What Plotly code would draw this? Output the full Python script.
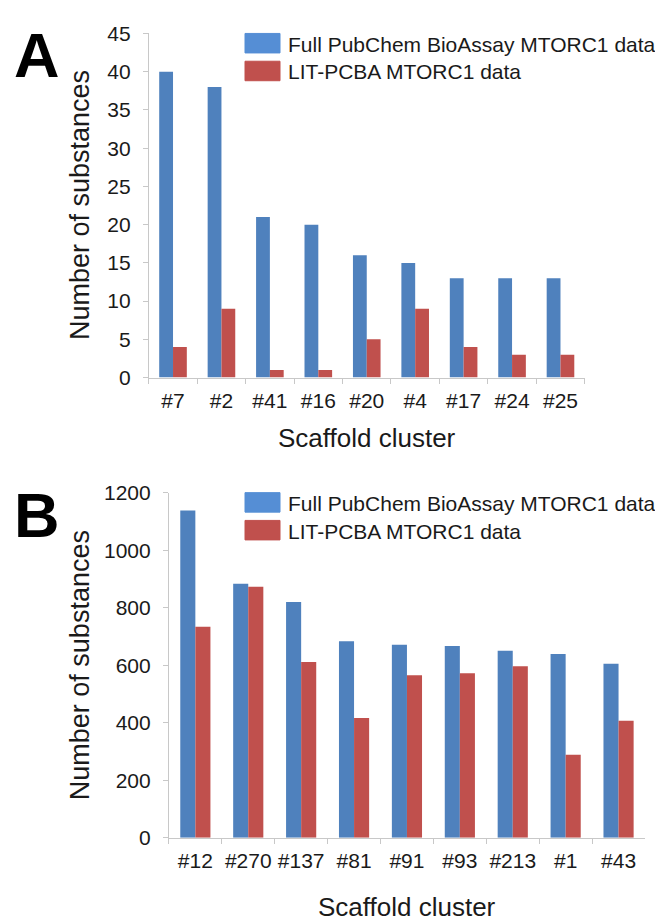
import plotly.graph_objects as go

# Scaffold clusters and substance counts, panel A
clusters_a = ["#7", "#2", "#41", "#16", "#20", "#4", "#17", "#24", "#25"]
full_a = [40, 38, 21, 20, 16, 15, 13, 13, 13]
litpcba_a = [4, 9, 1, 1, 5, 9, 4, 3, 3]

# Scaffold clusters and substance counts, panel B
clusters_b = ["#12", "#270", "#137", "#81", "#91", "#93", "#213", "#1", "#43"]
full_b = [1138, 883, 820, 683, 671, 667, 650, 639, 605]
litpcba_b = [734, 873, 611, 416, 565, 572, 596, 289, 407]

series_names = ["Full PubChem BioAssay MTORC1 data", "LIT-PCBA MTORC1 data"]
y_ticks_a = [0, 5, 10, 15, 20, 25, 30, 35, 40, 45]
y_ticks_b = [0, 200, 400, 600, 800, 1000, 1200]

W, H = 655, 917
BLUE = "#4F81BD"
RED = "#C0504D"
LEG_BLUE = "#558ED5"
AXIS_GRAY = "#C8C8C8"
TEXT = "#1a1a1a"
FONT = "Liberation Sans, Arial, sans-serif"


def px(x):
    return x / W


def py(y):
    return 1 - y / H


fig = go.Figure()
fig.add_bar(x=clusters_a, y=full_a, name=series_names[0], marker_color=BLUE,
            xaxis="x", yaxis="y", showlegend=False)
fig.add_bar(x=clusters_a, y=litpcba_a, name=series_names[1], marker_color=RED,
            xaxis="x", yaxis="y", showlegend=False)
fig.add_bar(x=clusters_b, y=full_b, name=series_names[0], marker_color=BLUE,
            xaxis="x2", yaxis="y2", showlegend=False)
fig.add_bar(x=clusters_b, y=litpcba_b, name=series_names[1], marker_color=RED,
            xaxis="x2", yaxis="y2", showlegend=False)
fig.update_traces(marker_line_width=0)

xcommon = dict(type="category", showline=True, linecolor=AXIS_GRAY, linewidth=1,
               ticks="outside", tickson="boundaries", ticklen=5, tickcolor=AXIS_GRAY,
               showgrid=False, zeroline=False, ticklabelstandoff=4, tickangle=0,
               tickfont=dict(family=FONT, size=21, color=TEXT))
ycommon = dict(showline=True, linecolor=AXIS_GRAY, linewidth=1, ticks="outside",
               ticklen=5, tickcolor=AXIS_GRAY, showgrid=False, zeroline=False,
               ticklabelstandoff=8, tickfont=dict(family=FONT, size=21, color=TEXT))

fig.update_layout(
    width=W, height=H, autosize=False,
    margin=dict(l=0, r=0, t=0, b=0),
    paper_bgcolor="white", plot_bgcolor="white",
    barmode="group", bargap=0.43, bargroupgap=0,
    showlegend=False,
    xaxis=dict(domain=[px(148.8), px(584.7)], anchor="y", **xcommon),
    yaxis=dict(domain=[py(375), py(22)], anchor="x", range=[0, 45],
               tickvals=y_ticks_a, **ycommon),
    xaxis2=dict(domain=[px(168.9), px(645)], anchor="y2", **xcommon),
    yaxis2=dict(domain=[py(847), py(493)], anchor="x2", range=[0, 1200],
                tickvals=y_ticks_b, **ycommon),
)

annotations = []
shapes = []


def panel_text(letter, y_letter, y_center_axis, leg_top):
    annotations.append(dict(text="<b>%s</b>" % letter, x=px(12), y=py(y_letter),
                            xref="paper", yref="paper", xanchor="left", yanchor="middle",
                            showarrow=False, font=dict(family=FONT, size=63, color="black")))
    annotations.append(dict(text="Number of substances", x=px(80), y=py(y_center_axis),
                            xref="paper", yref="paper", xanchor="center", yanchor="middle",
                            textangle=-90, showarrow=False,
                            font=dict(family=FONT, size=27, color=TEXT)))
    # legend: swatch + label per series
    for i, (name, col) in enumerate(zip(series_names, [LEG_BLUE, RED])):
        top = leg_top + i * 28.5
        shapes.append(dict(type="rect", xref="paper", yref="paper",
                           x0=px(245), x1=px(280), y0=py(top + 20), y1=py(top),
                           fillcolor=col, line=dict(color=col, width=1)))
        annotations.append(dict(text=name, x=px(286), y=py(top + 11),
                                xref="paper", yref="paper", xanchor="left", yanchor="middle",
                                showarrow=False, font=dict(family=FONT, size=21, color=TEXT)))


panel_text("A", 44, 198, 22)
panel_text("B", 516, 670, 493)

annotations.append(dict(text="Scaffold cluster", x=px((148.8 + 584.7) / 2), y=py(437),
                        xref="paper", yref="paper", xanchor="center", yanchor="middle",
                        showarrow=False, font=dict(family=FONT, size=26, color=TEXT)))
annotations.append(dict(text="Scaffold cluster", x=px((168.9 + 645) / 2), y=py(918),
                        xref="paper", yref="paper", xanchor="center", yanchor="middle",
                        showarrow=False, font=dict(family=FONT, size=26, color=TEXT)))

fig.update_layout(annotations=annotations, shapes=shapes)
fig.write_html("out.html")
